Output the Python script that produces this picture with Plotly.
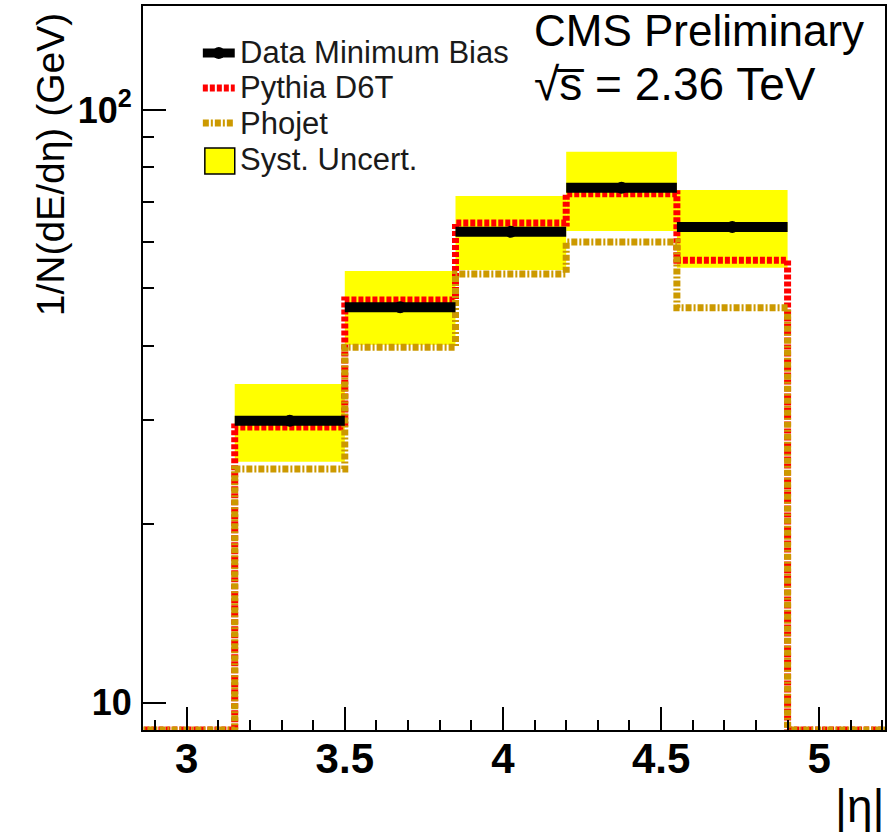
import plotly.graph_objects as go

# ---------------- data ----------------
bin_edges = [3.152, 3.5, 3.85, 4.2, 4.55, 4.9]
outer_left = 2.80
outer_right = 5.25
data_mb = [29.9, 46.5, 62.3, 73.9, 63.5]
pythia_d6t = [29.2, 47.8, 64.5, 72.2, 55.8]
phojet = [24.8, 39.8, 52.9, 59.9, 46.4]
syst_low = [25.5, 40.2, 53.7, 62.5, 54.2]
syst_high = [34.5, 53.5, 71.6, 85.0, 73.3]

x_tickvals = [3, 3.5, 4, 4.5, 5]
x_ticktext = ["3", "3.5", "4", "4.5", "5"]
y_tickvals = [10, 100]
y_ticktext = ["10", "10<sup>2</sup>"]

X_RANGE = [2.862, 5.208]
Y_RANGE_LOG = [0.9542, 2.1754]
Y_FLOOR = 10 ** Y_RANGE_LOG[0]

# ---------------- layout constants ----------------
W, H = 891, 832
ML, MR, MT, MB = 143, 4, 6, 102
PW, PH = W - ML - MR, H - MT - MB

def px_x(px):
    return (px - ML) / PW

def px_y(py):
    return (H - MB - py) / PH

FONT = "Liberation Sans, Arial, Helvetica, sans-serif"
RED = "#FF0000"
GOLD = "#CC9900"
YELLOW = "#FFFF00"

centers = [(a + b) / 2 for a, b in zip(bin_edges[:-1], bin_edges[1:])]
widths = [b - a for a, b in zip(bin_edges[:-1], bin_edges[1:])]

fig = go.Figure()

# systematic band
fig.add_trace(go.Bar(
    x=centers, width=widths, base=syst_low,
    y=[h - l for h, l in zip(syst_high, syst_low)],
    marker=dict(color=YELLOW, line=dict(width=0)),
    showlegend=False, hoverinfo="skip",
))

full_edges = [outer_left] + bin_edges + [outer_right]

def step(vals):
    v = [Y_FLOOR] + list(vals) + [Y_FLOOR]
    return full_edges, v + [v[-1]]

xs, ys = step(pythia_d6t)
fig.add_trace(go.Scatter(x=xs, y=ys, mode="lines", line_shape="hv",
                         line=dict(color=RED, width=7, dash="5px,2px"),
                         showlegend=False, hoverinfo="skip"))
xs, ys = step(phojet)
fig.add_trace(go.Scatter(x=xs, y=ys, mode="lines", line_shape="hv",
                         line=dict(color=GOLD, width=7, dash="6px,2px,2px,2px"),
                         showlegend=False, hoverinfo="skip"))

# data: horizontal bars per bin + markers
dx, dy = [], []
for lo, hi, v in zip(bin_edges[:-1], bin_edges[1:], data_mb):
    dx += [lo, hi, None]
    dy += [v, v, None]
fig.add_trace(go.Scatter(x=dx, y=dy, mode="lines",
                         line=dict(color="black", width=10),
                         showlegend=False, hoverinfo="skip"))
fig.add_trace(go.Scatter(x=centers, y=data_mb, mode="markers",
                         marker=dict(color="black", size=12, symbol="circle"),
                         showlegend=False))

# ---------------- axes ----------------
fig.update_xaxes(
    range=X_RANGE, tickmode="array", tickvals=x_tickvals, ticktext=x_ticktext,
    ticks="inside", ticklen=23, tickwidth=1.6, tickcolor="black",
    minor=dict(ticks="inside", ticklen=10, tickwidth=1.6, tickcolor="black",
               dtick=0.1, tick0=0, showgrid=False),
    showline=True, linecolor="black", linewidth=2, mirror=True,
    showgrid=False, zeroline=False,
    tickfont=dict(family=FONT, size=42, color="black", weight="bold"),
    ticklabelstandoff=-9,
)
fig.update_yaxes(
    type="log", range=Y_RANGE_LOG, tickmode="array", tickvals=y_tickvals,
    ticktext=y_ticktext,
    ticks="inside", ticklen=23, tickwidth=1.6, tickcolor="black",
    minor=dict(ticks="inside", ticklen=11, tickwidth=1.6, tickcolor="black",
               dtick="D1", showgrid=False),
    showline=True, linecolor="black", linewidth=2, mirror=True,
    showgrid=False, zeroline=False,
    tickfont=dict(family=FONT, size=36, color="black", weight="bold"),
    ticklabelstandoff=2,
)

annotations = [
    dict(text="1/N(dE/dη) (GeV)", textangle=-90, x=px_x(50), y=px_y(165),
         xref="paper", yref="paper", xanchor="center", yanchor="middle",
         showarrow=False,
         font=dict(family=FONT, size=39, color="black")),
    dict(text="|η|", x=px_x(888), y=px_y(834), xref="paper", yref="paper",
         xanchor="right", yanchor="bottom", showarrow=False,
         font=dict(family=FONT, size=46, color="black")),
    dict(text="CMS Preliminary", x=px_x(533), y=px_y(31), xref="paper", yref="paper",
         xanchor="left", yanchor="middle", showarrow=False,
         font=dict(family=FONT, size=44, color="black")),
    dict(text="√s\u0305 = 2.36 TeV", x=px_x(533), y=px_y(84), xref="paper", yref="paper",
         xanchor="left", yanchor="middle", showarrow=False,
         font=dict(family=FONT, size=46, color="black")),
]

# manual legend
leg_rows = [("Data Minimum Bias", 53), ("Pythia D6T", 88), ("Phojet", 123), ("Syst. Uncert.", 160)]
for txt, yy in leg_rows:
    annotations.append(dict(text=txt, x=px_x(238), y=px_y(yy), xref="paper", yref="paper",
                            xanchor="left", yanchor="middle", showarrow=False,
                            font=dict(family=FONT, size=31, color="#1a1a1a")))

shapes = [
    dict(type="line", xref="paper", yref="paper", x0=px_x(203), x1=px_x(235),
         y0=px_y(53), y1=px_y(53), line=dict(color="black", width=9)),
    dict(type="circle", xref="paper", yref="paper", x0=px_x(213), x1=px_x(225),
         y0=px_y(47), y1=px_y(59), fillcolor="black", line=dict(width=0)),
    dict(type="line", xref="paper", yref="paper", x0=px_x(203), x1=px_x(235),
         y0=px_y(88), y1=px_y(88), line=dict(color=RED, width=7, dash="5px,2px")),
    dict(type="line", xref="paper", yref="paper", x0=px_x(203), x1=px_x(235),
         y0=px_y(123), y1=px_y(123), line=dict(color=GOLD, width=7, dash="6px,2px,2px,2px")),
    dict(type="rect", xref="paper", yref="paper", x0=px_x(205), x1=px_x(235),
         y0=px_y(174), y1=px_y(148), fillcolor=YELLOW, line=dict(color="black", width=1.5)),
]

fig.update_layout(
    width=W, height=H, margin=dict(l=ML, r=MR, t=MT, b=MB),
    paper_bgcolor="white", plot_bgcolor="white",
    barmode="overlay", showlegend=False,
    annotations=annotations, shapes=shapes,
    font=dict(family=FONT, color="black"),
)

fig.write_html("out.html")
